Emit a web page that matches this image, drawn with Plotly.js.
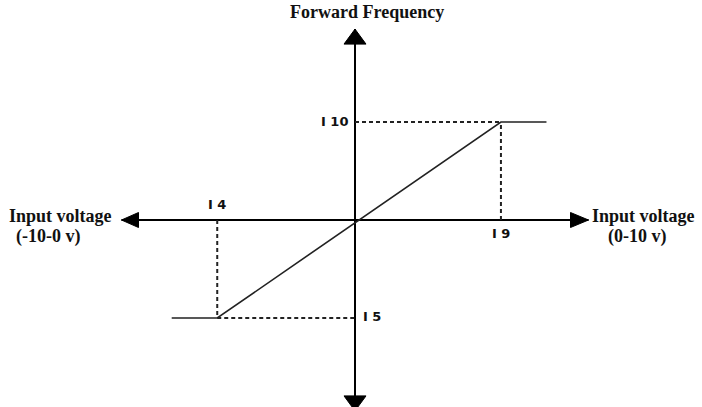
<!DOCTYPE html>
<html>
<head>
<meta charset="utf-8">
<script src="https://cdn.plot.ly/plotly-3.0.1.min.js"></script>
<style>html,body{margin:0;padding:0;background:#fff;}#chart{width:702px;height:407px;}</style>
</head>
<body>
<div id="chart"></div>
<script>
// ---- data ----
const kneeX = [-5.9, 6.25];        // I4 (negative side), I9 (positive side) input voltage
const kneeY = [-50, 50];           // I5 (low), I10 (high) frequency
const endX = [-7.85, 8.2];         // ends of the flat saturation segments
const axisX = [-10, 10];           // horizontal axis extent (arrow tips)
const axisY = [-97.4, 97.4];       // vertical axis extent (arrow tips)
const kneeLabels = ['I 4', 'I 9', 'I 5', 'I 10'];
const axisTitles = ['Forward Frequency', 'Input voltage', '(-10-0 v)', 'Input voltage', '(0-10 v)'];

const W = 702, H = 407;
const xr = [-355 / 23.35, 347 / 23.35];
const yr = [-187 / 1.96, 220 / 1.96];

const black = '#000';
const traces = [];
// axes
traces.push({x: axisX, y: [0, 0], mode: 'lines', line: {color: black, width: 2}, hoverinfo: 'skip'});
traces.push({x: [0, 0], y: axisY, mode: 'lines', line: {color: black, width: 2}, hoverinfo: 'skip'});
// dashed guides
const dash = {color: '#222', width: 2, dash: '4px,3px'};
traces.push({x: [kneeX[1], kneeX[1]], y: [0, kneeY[1]], mode: 'lines', line: dash, hoverinfo: 'skip'});
traces.push({x: [0, kneeX[1]], y: [kneeY[1], kneeY[1]], mode: 'lines', line: dash, hoverinfo: 'skip'});
traces.push({x: [kneeX[0], kneeX[0]], y: [0, kneeY[0]], mode: 'lines', line: dash, hoverinfo: 'skip'});
traces.push({x: [kneeX[0], 0], y: [kneeY[0], kneeY[0]], mode: 'lines', line: dash, hoverinfo: 'skip'});
// characteristic curve
traces.push({
  x: [endX[0], kneeX[0], kneeX[1], endX[1]],
  y: [kneeY[0], kneeY[0], kneeY[1], kneeY[1]],
  mode: 'lines', line: {color: '#222', width: 1.6}, hoverinfo: 'skip'
});

// arrowheads (pixel-sized shapes anchored at the axis tips)
function head(xa, ya, path) {
  return {type: 'path', xref: 'x', yref: 'y', xsizemode: 'pixel', ysizemode: 'pixel',
          xanchor: xa, yanchor: ya, path: path, fillcolor: black, line: {color: black, width: 1}};
}
const shapes = [
  head(0, axisY[1], 'M0,0L-11,-15L11,-15Z'),
  head(0, axisY[0], 'M0,0L-11,15L11,15Z'),
  head(axisX[0], 0, 'M0,0L17,7.5L17,-7.5Z'),
  head(axisX[1], 0, 'M0,0L-18,7.5L-18,-7.5Z')
];

const numFont = {family: 'DejaVu Sans', size: 13, color: '#111', weight: 'bold'};
const serif = {family: 'Liberation Serif', size: 18, color: '#111', weight: 'bold'};
const annotations = [
  {x: kneeX[0], y: 0, xref: 'x', yref: 'y', text: kneeLabels[0], showarrow: false, yshift: 16, font: numFont},
  {x: kneeX[1], y: 0, xref: 'x', yref: 'y', text: kneeLabels[1], showarrow: false, yshift: -13, font: numFont},
  {x: 0, y: kneeY[0], xref: 'x', yref: 'y', text: kneeLabels[2], showarrow: false, xanchor: 'left', xshift: 6, yshift: 2, font: numFont},
  {x: 0, y: kneeY[1], xref: 'x', yref: 'y', text: kneeLabels[3], showarrow: false, xanchor: 'right', xshift: -5, yshift: 1, font: numFont},
  {x: 0, y: 1, xref: 'x', yref: 'paper', text: axisTitles[0], showarrow: false, xshift: 12, yanchor: 'top', yshift: 0, font: serif},
  {x: 7 / W, y: 1 - 216 / H, xref: 'paper', yref: 'paper', text: axisTitles[1], showarrow: false, xanchor: 'left', font: serif},
  {x: 14 / W, y: 1 - 236 / H, xref: 'paper', yref: 'paper', text: axisTitles[2], showarrow: false, xanchor: 'left', font: serif},
  {x: 590 / W, y: 1 - 216 / H, xref: 'paper', yref: 'paper', text: axisTitles[3], showarrow: false, xanchor: 'left', font: serif},
  {x: 606 / W, y: 1 - 236 / H, xref: 'paper', yref: 'paper', text: axisTitles[4], showarrow: false, xanchor: 'left', font: serif}
];

const layout = {
  width: W, height: H,
  margin: {l: 0, r: 0, t: 0, b: 0},
  paper_bgcolor: '#fff', plot_bgcolor: '#fff',
  showlegend: false,
  xaxis: {range: xr, visible: false, fixedrange: true},
  yaxis: {range: yr, visible: false, fixedrange: true},
  shapes: shapes,
  annotations: annotations
};
Plotly.newPlot('chart', traces, layout, {staticPlot: true, displayModeBar: false});
</script>
</body>
</html>
